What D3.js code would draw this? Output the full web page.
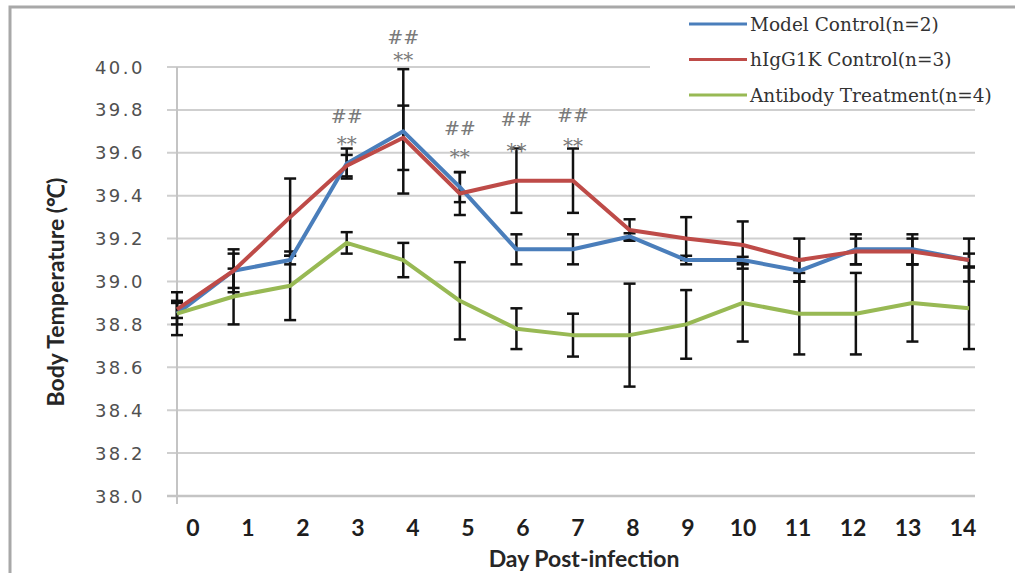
<!DOCTYPE html>
<html>
<head>
<meta charset="utf-8">
<script src="https://cdn.jsdelivr.net/npm/d3@7/dist/d3.min.js"></script>
<style>
  html, body { margin: 0; padding: 0; background: #fff; }
  svg { display: block; }
</style>
</head>
<body>
<svg id="chart" width="1015" height="573"></svg>
<script>
// ---- data ----
const days = [0, 1, 2, 3, 4, 5, 6, 7, 8, 9, 10, 11, 12, 13, 14];
const yTicks = [38.0, 38.2, 38.4, 38.6, 38.8, 39.0, 39.2, 39.4, 39.6, 39.8, 40.0];

const modelControl = [38.85, 39.05, 39.10, 39.55, 39.70, 39.44, 39.15, 39.15, 39.21, 39.10, 39.10, 39.05, 39.15, 39.15, 39.10];
const modelErr     = [0.05, 0.10, 0.02, 0.07, 0.29, 0.07, 0.07, 0.07, 0.015, 0.02, 0.015, 0.05, 0.07, 0.07, 0.03];

const hIgG1K       = [38.87, 39.05, 39.30, 39.54, 39.67, 39.41, 39.47, 39.47, 39.24, 39.20, 39.17, 39.10, 39.14, 39.14, 39.10];
const hIgG1KErr    = [0.04, 0.08, 0.18, 0.05, 0.15, 0.10, 0.15, 0.15, 0.05, 0.10, 0.11, 0.10, 0.06, 0.06, 0.10];

const antibody     = [38.85, 38.93, 38.98, 39.18, 39.10, 38.91, 38.78, 38.75, 38.75, 38.80, 38.90, 38.85, 38.85, 38.90, 38.875];
const antibodyErr  = [0.10, 0.13, 0.16, 0.05, 0.08, 0.18, 0.095, 0.10, 0.24, 0.16, 0.18, 0.19, 0.19, 0.18, 0.19];

const seriesNames  = ["Model Control(n=2)", "hIgG1K Control(n=3)", "Antibody Treatment(n=4)"];
const seriesColors = ["#4A7EBB", "#BE4B48", "#98B954"];

// significance marks (day, level in °C where the mark sits)
const sigDays   = [3, 4, 5, 6, 7];
const starLevel = [39.664, 40.056, 39.604, 39.632, 39.655];
const hashLevel = [39.770, 40.140, 39.716, 39.758, 39.776];

const xTitle = "Day Post-infection";
const yTitle = "Body Temperature (\u2103)";

// ---- build ----
const series = [
  { name: seriesNames[0], color: seriesColors[0], v: modelControl, e: modelErr },
  { name: seriesNames[1], color: seriesColors[1], v: hIgG1K, e: hIgG1KErr },
  { name: seriesNames[2], color: seriesColors[2], v: antibody, e: antibodyErr }
];

const svg = d3.select("#chart");
const x = d3.scaleLinear().domain([0, 14]).range([177, 969]);
const xLab = d3.scaleLinear().domain([0, 14]).range([193, 963]);
const y = d3.scaleLinear().domain([38, 40]).range([496, 67]);

// outer chart border
svg.append("rect")
  .attr("x", 10).attr("y", 7).attr("width", 1030).attr("height", 600)
  .attr("fill", "none").attr("stroke", "#a8a8a8").attr("stroke-width", 3);

// gridlines
const gridG = svg.append("g");
gridG.selectAll("line").data(yTicks).join("line")
  .attr("x1", 167).attr("x2", 975)
  .attr("y1", d => y(d)).attr("y2", d => y(d))
  .attr("stroke", d => d === 38 ? "#c4c4c4" : "#cfcfcf")
  .attr("stroke-width", d => d === 38 ? 2.5 : 2);

// vertical axis line
svg.append("line")
  .attr("x1", x(0)).attr("x2", x(0))
  .attr("y1", y(40)).attr("y2", y(38) + 8)
  .attr("stroke", "#c4c4c4").attr("stroke-width", 2);

// y tick labels
svg.append("g").selectAll("text").data(yTicks).join("text")
  .attr("x", 145).attr("y", d => y(d))
  .attr("text-anchor", "end").attr("dominant-baseline", "central")
  .attr("font-family", "DejaVu Sans").attr("font-size", 18)
  .attr("letter-spacing", "2.5px")
  .attr("fill", "#505050")
  .text(d => d.toFixed(1));

// x tick labels
svg.append("g").selectAll("text").data(days).join("text")
  .attr("x", d => xLab(d)).attr("y", 527)
  .attr("text-anchor", "middle").attr("dominant-baseline", "central")
  .attr("font-family", "Lato").attr("font-weight", 700).attr("font-size", 23)
  .attr("fill", "#1e1e1e")
  .text(d => d);

// axis titles
svg.append("text")
  .attr("x", 584).attr("y", 558)
  .attr("text-anchor", "middle").attr("dominant-baseline", "central")
  .attr("font-family", "Lato").attr("font-weight", 700).attr("font-size", 23)
  .attr("fill", "#262626")
  .text(xTitle);

svg.append("text")
  .attr("transform", "translate(55,292) rotate(-90)")
  .attr("text-anchor", "middle").attr("dominant-baseline", "central")
  .attr("font-family", "Lato").attr("font-weight", 700).attr("font-size", 23)
  .attr("fill", "#262626")
  .text(yTitle);

// error bars
const capW = 6;
series.forEach(s => {
  const g = svg.append("g").attr("stroke", "#111").attr("stroke-width", 2.5).attr("fill", "none");
  days.forEach((d, i) => {
    const top = y(s.v[i] + s.e[i]), bot = y(s.v[i] - s.e[i]), cx = x(d);
    g.append("line").attr("x1", cx).attr("x2", cx).attr("y1", top).attr("y2", bot);
    g.append("line").attr("x1", cx - capW).attr("x2", cx + capW).attr("y1", top).attr("y2", top);
    g.append("line").attr("x1", cx - capW).attr("x2", cx + capW).attr("y1", bot).attr("y2", bot);
  });
});

// lines
const lineGen = d3.line().x((v, i) => x(days[i])).y(v => y(v));
series.forEach(s => {
  svg.append("path")
    .attr("d", lineGen(s.v))
    .attr("fill", "none")
    .attr("stroke", s.color)
    .attr("stroke-width", 4)
    .attr("stroke-linejoin", "round");
});

// significance marks
const sigG = svg.append("g")
  .attr("font-family", "DejaVu Serif")
  .attr("fill", "#7a7a7a").attr("text-anchor", "middle").attr("dominant-baseline", "central");
sigDays.forEach((d, i) => {
  sigG.append("text").attr("x", x(d)).attr("y", y(hashLevel[i])).attr("font-size", 19).text("##");
  sigG.append("text").attr("x", x(d)).attr("y", y(starLevel[i]) + 5).attr("font-size", 20).text("**");
});

// legend
const leg = svg.append("g");
leg.append("rect").attr("x", 650).attr("y", 10).attr("width", 362).attr("height", 90).attr("fill", "#fff");
series.forEach((s, i) => {
  const ly = 24 + i * 35.5;
  leg.append("line").attr("x1", 689).attr("x2", 747).attr("y1", ly).attr("y2", ly)
    .attr("stroke", s.color).attr("stroke-width", 3);
  leg.append("text").attr("x", 750).attr("y", ly)
    .attr("dominant-baseline", "central")
    .attr("font-family", "DejaVu Serif").attr("font-size", 18.5)
    .attr("fill", "#333")
    .text(s.name);
});
</script>
</body>
</html>
